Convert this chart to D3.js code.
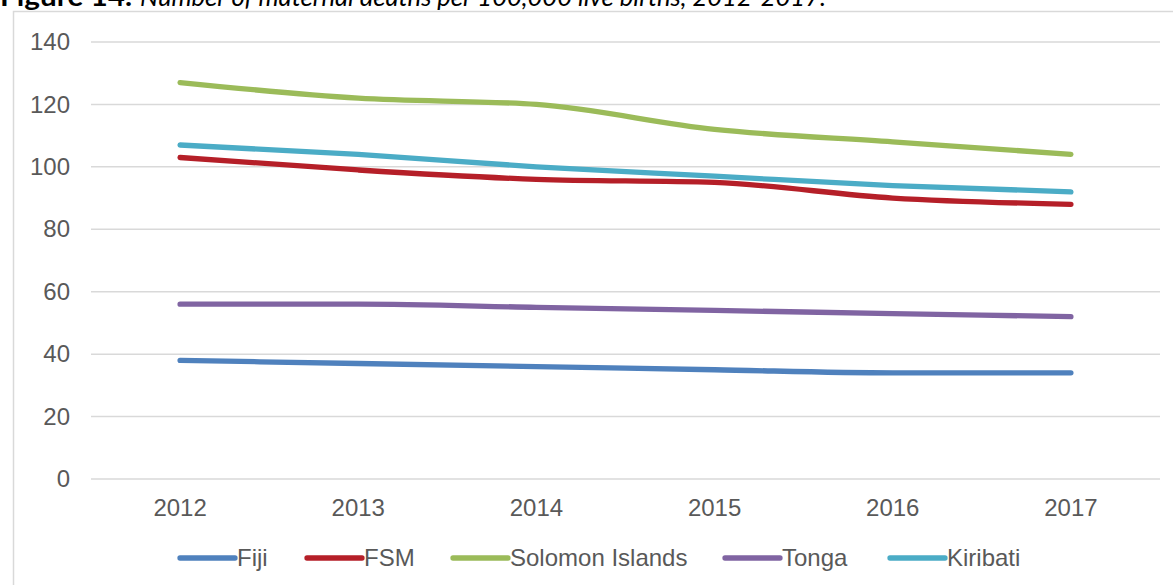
<!DOCTYPE html>
<html>
<head>
<meta charset="utf-8">
<script src="https://cdn.jsdelivr.net/npm/d3@7"></script>
<style>
  body { margin: 0; background: #fff; }
  svg { display: block; }
</style>
</head>
<body>
<div id="chart"></div>
<script>
// data
const years = ["2012", "2013", "2014", "2015", "2016", "2017"];
const fiji = [38, 37, 36, 35, 34, 34];
const fsm = [103, 99, 96, 95, 90, 88];
const solomon = [127, 122, 120, 112, 108, 104];
const tonga = [56, 56, 55, 54, 53, 52];
const kiribati = [107, 104, 100, 97, 94, 92];
const seriesNames = ["Fiji", "FSM", "Solomon Islands", "Tonga", "Kiribati"];
const yTicks = [0, 20, 40, 60, 80, 100, 120, 140];

const colors = ["#4f81bd", "#b51f28", "#9bbb59", "#8064a2", "#4bacc6"];
const series = [fiji, fsm, solomon, tonga, kiribati];

// ----------------------------------------------------------

const W = 1173, H = 585;
const svg = d3.select("#chart").append("svg")
    .attr("width", W).attr("height", H);

// chart frame
svg.append("rect")
    .attr("x", 13.5).attr("y", 11.5)
    .attr("width", 1220).attr("height", 620)
    .attr("fill", "none").attr("stroke", "#d9d9d9").attr("stroke-width", 1.5);

// title (cut off at the top, as in the source)
const titleFont = "Lato, 'Open Sans', sans-serif";
svg.append("text")
    .attr("x", 0).attr("y", 6)
    .attr("font-family", titleFont).attr("font-size", 26)
    .attr("font-weight", "bold").attr("fill", "#000")
    .attr("textLength", 132).attr("lengthAdjust", "spacingAndGlyphs")
    .text("Figure 14.");
svg.append("text")
    .attr("x", 140).attr("y", 6)
    .attr("font-family", titleFont).attr("font-size", 26)
    .attr("font-style", "italic").attr("fill", "#000")
    .attr("textLength", 686).attr("lengthAdjust", "spacingAndGlyphs")
    .text("Number of maternal deaths per 100,000 live births, 2012-2017.");

const plotLeft = 91, plotRight = 1160, plotTop = 42, plotBottom = 479;

const x = d3.scaleBand().domain(years).range([plotLeft, plotRight]);
const y = d3.scaleLinear().domain([0, 140]).range([plotBottom, plotTop]);

const labelFont = "'Liberation Sans', Arial, sans-serif";

// gridlines
svg.append("g").selectAll("line").data(yTicks).enter().append("line")
    .attr("x1", plotLeft).attr("x2", plotRight)
    .attr("y1", d => y(d)).attr("y2", d => y(d))
    .attr("stroke", "#d9d9d9").attr("stroke-width", 1.5);

// y axis labels
const yAxis = d3.axisLeft(y).tickValues(yTicks).tickSize(0).tickPadding(0);
const yg = svg.append("g").attr("transform", "translate(70,0)").call(yAxis);
yg.select(".domain").remove();
yg.selectAll("text")
    .attr("font-family", labelFont)
    .attr("font-size", 24).attr("fill", "#595959");

// x axis labels
const xAxis = d3.axisBottom(x).tickSize(0).tickPadding(0);
const xg = svg.append("g").attr("transform", "translate(0,499)").call(xAxis);
xg.select(".domain").remove();
xg.selectAll("text")
    .attr("font-family", labelFont)
    .attr("font-size", 24).attr("fill", "#595959");

// lines
const line = d3.line()
    .x((d, i) => x(years[i]) + x.bandwidth() / 2)
    .y(d => y(d))
    .curve(d3.curveMonotoneX);

svg.append("g").selectAll("path").data(series).enter().append("path")
    .attr("d", d => line(d))
    .attr("fill", "none")
    .attr("stroke", (d, i) => colors[i])
    .attr("stroke-width", 5.3)
    .attr("stroke-linecap", "round")
    .attr("stroke-linejoin", "round");

// legend
const legendX = [180, 307, 453, 725, 890];
const legendY = 558;
const lg = svg.append("g").selectAll("g").data(seriesNames).enter().append("g")
    .attr("transform", (d, i) => "translate(" + legendX[i] + "," + legendY + ")");
lg.append("line")
    .attr("x1", 0).attr("x2", 55).attr("y1", 0).attr("y2", 0)
    .attr("stroke", (d, i) => colors[i])
    .attr("stroke-width", 5.3).attr("stroke-linecap", "round");
lg.append("text")
    .attr("x", 57).attr("y", 8)
    .attr("font-family", labelFont)
    .attr("font-size", 24).attr("fill", "#595959")
    .text(d => d);
</script>
</body>
</html>
